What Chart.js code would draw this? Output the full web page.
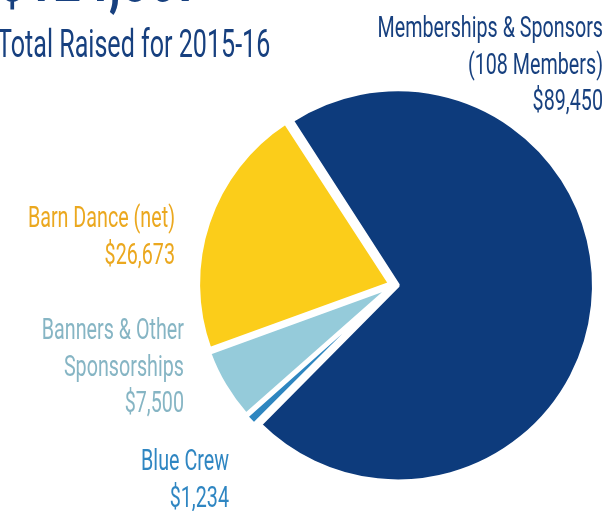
<!DOCTYPE html>
<html>
<head>
<meta charset="utf-8">
<script src="https://cdn.jsdelivr.net/npm/chart.js@4"></script>
<style>
  html, body { margin: 0; padding: 0; background: #fff; }
  #wrap { position: relative; width: 610px; height: 511px; overflow: hidden; }
</style>
</head>
<body>
<div id="wrap"><canvas id="pie"></canvas></div>
<script>
// slices, clockwise from the upper-left cut
const categories = ["Memberships & Sponsors", "Blue Crew", "Banners & Other Sponsorships", "Barn Dance (net)"];
const amounts = [89450, 1234, 7500, 26673];
const sliceColors = ["#0d3b7c", "#2e86c0", "#95cbda", "#fbcd1a"];
const explode = [16, 12, 12, 16];

const totalRaised = amounts.reduce((a, b) => a + b, 0);
const money = (v) => "$" + v.toLocaleString("en-US");

// label text per slice (same order as above)
const labelLines = [
  ["Memberships & Sponsors", "(108 Members)", money(amounts[0])],
  ["Blue Crew", money(amounts[1])],
  ["Banners & Other", "Sponsorships", money(amounts[2])],
  ["Barn Dance (net)", money(amounts[3])]
];
const labelColors = ["#17407f", "#2f86c2", "#86b5c4", "#eba81f"];

function squeezedText(ctx, text, x, y, size, color, squeeze, align, weight) {
  ctx.save();
  ctx.font = (weight || "400") + " " + size + "px Roboto";
  ctx.fillStyle = color;
  ctx.textBaseline = "alphabetic";
  const w = ctx.measureText(text).width * squeeze;
  const left = align === "right" ? x - w : x;
  ctx.translate(left, y);
  ctx.scale(squeeze, 1);
  ctx.fillText(text, 0, 0);
  ctx.restore();
}

const labelPlugin = {
  id: "sliceLabels",
  afterDraw(chart) {
    const ctx = chart.ctx;
    // headline, mostly cropped off the top
    squeezedText(ctx, money(totalRaised), -2, 1, 78, "#17407f", 0.62, "left", "700");
    squeezedText(ctx, "Total Raised for " + "2015-16", -3, 57, 38, "#17407f", 0.66, "left");

    const spots = [
      { x: 603, y: 37 },
      { x: 229, y: 470 },
      { x: 184, y: 339 },
      { x: 175, y: 227 }
    ];
    labelLines.forEach((lines, i) => {
      lines.forEach((t, j) => {
        squeezedText(ctx, t, spots[i].x, spots[i].y + j * 36.5, 29, labelColors[i], 0.68, "right");
      });
    });
  }
};

new Chart(document.getElementById("pie"), {
  type: "pie",
  data: {
    labels: categories,
    datasets: [{
      data: amounts,
      backgroundColor: sliceColors,
      borderColor: "#ffffff",
      borderWidth: 4,
      offset: explode
    }]
  },
  options: {
    responsive: true,
    maintainAspectRatio: false,
    animation: false,
    rotation: -33,
    radius: 192,
    layout: { padding: { left: 178, right: 0, top: 59, bottom: 0 } },
    plugins: {
      legend: { display: false },
      tooltip: { enabled: false }
    }
  },
  plugins: [labelPlugin]
});
</script>
</body>
</html>
